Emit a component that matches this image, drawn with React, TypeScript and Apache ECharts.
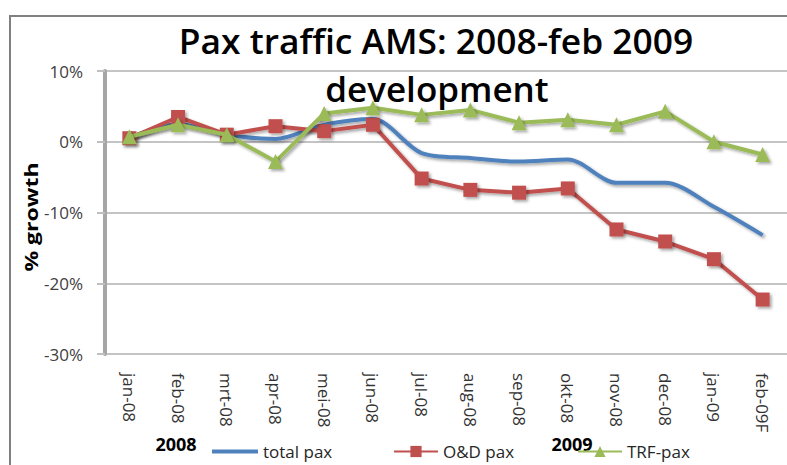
import React, { useEffect, useRef } from "react";
import * as echarts from "echarts";

const categories = ["jan-08","feb-08","mrt-08","apr-08","mei-08","jun-08","jul-08","aug-08","sep-08","okt-08","nov-08","dec-08","jan-09","feb-09F"];
const totalPax = [0.6, 2.5, 1.0, 0.4, 2.4, 3.2, -1.6, -2.3, -2.8, -2.5, -5.8, -5.8, -9.2, -13.2];
const odPax = [0.5, 3.5, 1.0, 2.2, 1.5, 2.4, -5.2, -6.8, -7.2, -6.6, -12.4, -14.1, -16.6, -22.3];
const trfPax = [0.7, 2.4, 1.0, -2.8, 4.0, 4.8, 3.8, 4.5, 2.7, 3.1, 2.4, 4.3, 0.0, -1.8];
const yTicks = { min: -30, max: 10, interval: 10 };
const titleLines = ["Pax traffic AMS: 2008-feb 2009", "development"];
const yName = "% growth";
const yearLabels = ["2008", "2009"];

const FONT = "'Open Sans', 'Liberation Sans', sans-serif";

export default function App() {
  const ref = useRef<HTMLDivElement>(null);
  useEffect(() => {
    const chart = echarts.init(ref.current!, null, { renderer: "svg" });
    const shadow = { shadowColor: "rgba(0,0,0,0.35)", shadowBlur: 3, shadowOffsetX: 2, shadowOffsetY: 2 };
    const legendText = { fontFamily: FONT, fontSize: 17, color: "#262626" };
    chart.setOption({
      animation: false,
      backgroundColor: "#ffffff",
      grid: { left: 105, top: 71, width: 687, bottom: 111, containLabel: false },
      xAxis: {
        type: "category",
        data: categories,
        boundaryGap: true,
        axisLine: { show: false },
        axisTick: { show: false },
        axisLabel: { rotate: -90, margin: 19, fontFamily: FONT, fontSize: 17, color: "#333" },
      },
      yAxis: {
        type: "value",
        min: yTicks.min, max: yTicks.max, interval: yTicks.interval,
        axisLine: { show: true, lineStyle: { color: "#a6a6a6", width: 4 } },
        axisTick: { show: true, length: 8, lineStyle: { color: "#bfbfbf", width: 2 } },
        axisLabel: { formatter: "{value}%", margin: 22, fontFamily: FONT, fontSize: 17, color: "#404040" },
        splitLine: { lineStyle: { color: "#c4c4c4", width: 2 } },
      },
      legend: [
        {
          data: [{ name: "total pax", icon: "rect" }], left: 207, top: 438, itemWidth: 46, itemHeight: 4, itemGap: 0,
          textStyle: legendText,
        },
        {
          data: ["O&D pax"], left: 388, top: 438, itemWidth: 44, itemHeight: 14,
          textStyle: legendText,
        },
        {
          data: ["TRF-pax"], left: 572, top: 438, itemWidth: 44, itemHeight: 14,
          textStyle: legendText,
        },
      ],
      graphic: [
        { type: "rect", shape: { x: 10, y: 16, width: 800, height: 470 }, style: { fill: "none", stroke: "#808080", lineWidth: 2 }, silent: true },
        {
          type: "text", x: 436, y: 41, scaleX: 1.04,
          style: { text: titleLines[0], fontFamily: FONT, fontSize: 34, fontWeight: 600, fill: "#000", align: "center", verticalAlign: "middle" },
        },
        {
          type: "text", x: 437, y: 89, scaleX: 1.03,
          style: { text: titleLines[1], fontFamily: FONT, fontSize: 34, fontWeight: 600, fill: "#000", align: "center", verticalAlign: "middle" },
        },
        {
          type: "text", x: 31, y: 217, rotation: Math.PI / 2, scaleX: 1.28,
          style: { text: yName, fontFamily: FONT, fontSize: 18, fontWeight: "bold", fill: "#000", align: "center", verticalAlign: "middle" },
        },
        { type: "text", x: 176, y: 444, style: { text: yearLabels[0], fontFamily: FONT, fontSize: 18, fontWeight: "bold", fill: "#000", align: "center", verticalAlign: "middle" } },
        { type: "text", x: 572, y: 444, style: { text: yearLabels[1], fontFamily: FONT, fontSize: 18, fontWeight: "bold", fill: "#000", align: "center", verticalAlign: "middle" } },
      ],
      series: [
        {
          name: "total pax", type: "line", data: totalPax, symbol: "none", smooth: 0.3,
          lineStyle: { color: "#4f81bd", width: 4, ...shadow }, itemStyle: { color: "#4f81bd" }, z: 2,
        },
        {
          name: "O&D pax", type: "line", data: odPax, symbol: "rect", symbolSize: 14,
          lineStyle: { color: "#c0504d", width: 4, ...shadow }, itemStyle: { color: "#c0504d", ...shadow }, z: 3,
        },
        {
          name: "TRF-pax", type: "line", data: trfPax, symbol: "triangle", symbolSize: 15,
          lineStyle: { color: "#9bbb59", width: 4, ...shadow }, itemStyle: { color: "#9bbb59", ...shadow }, z: 4,
        },
      ],
    });
    return () => chart.dispose();
  }, []);
  return <div ref={ref} style={{ width: 787, height: 465, position: "absolute", left: 0, top: 0 }} />;
}
